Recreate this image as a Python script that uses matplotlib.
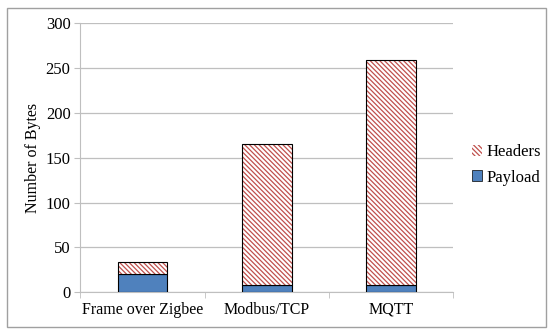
import numpy as np
import matplotlib
matplotlib.use("Agg")
import matplotlib.pyplot as plt
from matplotlib.patches import Rectangle

plt.rcParams['font.family'] = ['Liberation Serif', 'DejaVu Serif']
plt.rcParams['hatch.linewidth'] = 0.9

# Data
categories = ['Frame over Zigbee', 'Modbus/TCP', 'MQTT']
payload = [20, 8, 8]
headers = [14, 157, 251]

payload_color = '#4F81BD'
header_color = '#C0504D'
grid_color = '#BFBFBF'

fig = plt.figure(figsize=(5.5, 3.32), dpi=100)
ax = fig.add_axes([0.146, 0.12, 0.678, 0.81])

x = np.arange(len(categories))
bar_w = 0.4
ax.bar(x, payload, bar_w, color=payload_color, edgecolor='black', linewidth=0.8,
       label='Payload', zorder=3)
ax.bar(x, headers, bar_w, bottom=payload, color='white', edgecolor=header_color,
       hatch='\\' * 7, linewidth=0, label='Headers', zorder=3)
# black outline on the header segments
ax.bar(x, headers, bar_w, bottom=payload, fill=False, edgecolor='black',
       linewidth=0.8, zorder=4)

ax.set_xlim(-0.5, len(categories) - 0.5)
ax.set_ylim(0, 300)
ax.set_yticks(np.arange(0, 301, 50))
ax.set_xticks(x)
ax.set_xticklabels(categories, fontsize=11.5)
ax.set_xticks(np.arange(-0.5, len(categories), 1.0), minor=True)
ax.tick_params(axis='x', which='major', length=0, pad=7)
ax.tick_params(axis='x', which='minor', length=4, color=grid_color, direction='out')
ax.tick_params(axis='y', length=4, color=grid_color, labelsize=12, pad=3)
ax.set_ylabel('Number of Bytes', fontsize=11.5, labelpad=3)

ax.yaxis.grid(True, color=grid_color, linewidth=0.9, zorder=0)
ax.set_axisbelow(True)
for side in ['top', 'right']:
    ax.spines[side].set_visible(False)
for side in ['left', 'bottom']:
    ax.spines[side].set_color(grid_color)

handles, labels = ax.get_legend_handles_labels()
leg = fig.legend(handles[::-1], labels[::-1], loc='center left',
                 bbox_to_anchor=(0.83, 0.503), frameon=False, fontsize=12,
                 handlelength=0.6, handleheight=0.6, handletextpad=0.3,
                 labelspacing=0.55)
leg.legend_handles[1].set_edgecolor('black')
leg.legend_handles[1].set_linewidth(0.5)

# outer frame around the chart
fig.add_artist(Rectangle((0.013, 0.015), 0.98, 0.96, transform=fig.transFigure,
                         fill=False, edgecolor='#A0A0A0', linewidth=1.0))

fig.savefig('out.png', dpi=100)
